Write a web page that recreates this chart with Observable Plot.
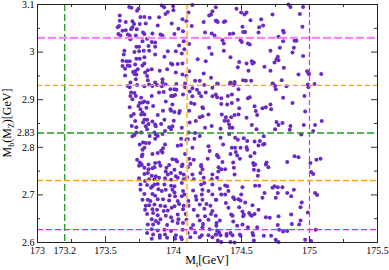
<!DOCTYPE html>
<html><head><meta charset="utf-8">
<script src="https://cdn.jsdelivr.net/npm/d3@7"></script>
<script src="https://cdn.jsdelivr.net/npm/@observablehq/plot@0.6"></script>
<style>body{margin:0;background:#fff}#chart svg{display:block}</style>
</head><body><div id="chart"></div>
<script>
// [M_t (GeV), M_b(M_Z) (GeV)] points, grouped by region of the picture
const regionTopLeft = [[173.674,3.095],[173.691,3.093],[173.732,3.087],[173.742,3.091],[173.914,3.098],[173.931,3.094],[173.997,3.097],[173.999,3.088],[174.139,3.099],[173.958,3.084],[173.941,3.080],[174.110,3.083],[174.286,3.086],[174.276,3.079],[174.262,3.077],[174.311,3.066],[174.325,3.063],[173.605,3.077],[173.757,3.074],[173.786,3.074],[173.825,3.072],[173.894,3.073],[173.605,3.066],[173.649,3.063],[173.698,3.065],[173.710,3.059],[173.752,3.059],[173.796,3.060],[173.987,3.060],[174.066,3.069],[174.095,3.065],[174.222,3.063],[173.600,3.055],[173.590,3.052],[173.698,3.052],[173.884,3.056],[174.134,3.055],[173.688,3.048],[173.730,3.048],[173.625,3.045],[173.649,3.046],[174.036,3.049],[174.070,3.044],[173.776,3.041],[173.786,3.038],[173.595,3.038],[173.610,3.035],[173.664,3.037],[173.678,3.035],[173.723,3.035],[173.845,3.039],[173.904,3.037],[173.919,3.035],[174.007,3.038],[174.232,3.041],[174.281,3.039],[173.683,3.027],[173.806,3.028],[173.772,3.023],[173.840,3.021],[173.865,3.020],[174.075,3.023],[174.041,3.014],[174.115,3.017],[173.727,3.011],[173.747,3.011],[173.816,3.013],[173.865,3.011],[174.262,3.009],[173.639,3.003],[173.713,3.000],[173.747,3.002],[173.781,3.003],[173.821,3.003],[173.958,3.002],[174.017,3.002],[174.080,3.006],[173.634,2.995],[173.865,2.995],[174.061,2.997],[174.281,2.996],[173.786,2.989],[173.933,2.990],[173.727,2.986],[173.752,2.986],[174.178,2.985],[173.625,2.982],[173.654,2.981],[173.678,2.981],[173.786,2.976],[173.982,2.976],[173.992,2.974],[174.031,2.975],[174.066,2.976],[173.625,2.971],[173.664,2.972],[173.678,2.971],[173.718,2.974],[173.772,2.972],[174.237,2.981],[173.644,2.965],[173.737,2.964],[173.811,2.962],[173.840,2.964],[173.899,2.961],[173.953,2.964],[173.703,2.958],[173.718,2.960],[173.791,2.957],[174.017,2.957],[174.066,2.953],[174.115,2.960],[174.222,2.955],[173.644,2.951],[173.713,2.954],[173.727,2.953],[173.806,2.950],[174.095,2.950],[174.276,2.946],[173.723,2.943],[173.811,2.941],[173.919,2.943],[174.193,2.940],[174.159,2.940],[173.683,2.936],[173.865,2.936],[173.919,2.936],[174.021,2.933],[174.085,2.934]];
const regionTopRight = [[174.311,3.094],[174.463,3.091],[174.498,3.083],[174.522,3.079],[174.537,3.083],[174.566,3.067],[174.645,3.069],[174.728,3.079],[174.845,3.100],[174.860,3.095],[174.953,3.095],[174.929,3.080],[174.316,3.066],[174.370,3.063],[174.380,3.065],[174.507,3.053],[174.630,3.052],[174.659,3.056],[174.948,3.053],[174.414,3.038],[174.439,3.039],[174.512,3.042],[174.527,3.042],[174.625,3.041],[174.806,3.045],[174.811,3.041],[174.302,3.035],[174.360,3.025],[174.370,3.018],[174.493,3.025],[174.502,3.021],[174.547,3.018],[174.561,3.016],[174.772,3.032],[174.806,3.023],[174.890,3.024],[174.904,3.024],[174.370,3.003],[174.713,3.003],[174.782,3.009],[174.885,3.009],[174.875,2.999],[174.953,2.992],[174.419,2.989],[174.483,2.979],[174.537,2.976],[174.576,2.981],[174.581,2.976],[174.591,2.978],[174.743,2.978],[174.757,2.985],[174.772,2.983],[174.767,2.990],[174.473,2.968],[174.669,2.969],[174.811,2.967],[174.551,2.961],[174.713,2.961],[174.983,2.960],[174.992,2.955],[174.997,2.954],[175.086,2.954],[174.919,2.953],[174.512,2.941],[174.532,2.940],[174.571,2.940],[174.796,2.941],[174.321,2.934],[174.419,2.936],[174.449,2.937],[174.728,2.934],[174.988,2.932],[175.037,2.933]];
const regionMidLeft = [[173.664,2.929],[173.678,2.926],[173.732,2.931],[173.786,2.928],[173.821,2.932],[173.845,2.929],[173.879,2.931],[173.914,2.928],[173.943,2.932],[173.977,2.922],[174.007,2.922],[174.021,2.921],[174.085,2.926],[174.139,2.924],[174.173,2.921],[174.227,2.931],[174.286,2.925],[173.688,2.915],[173.683,2.908],[173.713,2.914],[173.723,2.908],[173.698,2.901],[173.762,2.904],[173.840,2.908],[173.894,2.915],[173.928,2.916],[173.982,2.908],[173.997,2.908],[174.012,2.910],[174.070,2.911],[174.119,2.917],[174.139,2.907],[174.188,2.914],[174.203,2.907],[174.237,2.915],[174.286,2.907],[173.752,2.893],[173.772,2.894],[173.786,2.896],[173.811,2.894],[173.678,2.884],[173.742,2.887],[173.850,2.887],[173.943,2.896],[173.992,2.890],[174.129,2.893],[174.154,2.891],[174.213,2.884],[174.217,2.882],[173.757,2.880],[173.801,2.883],[173.923,2.877],[173.977,2.880],[173.982,2.877],[174.007,2.874],[174.046,2.876],[174.115,2.877],[173.708,2.870],[173.762,2.869],[173.786,2.869],[173.772,2.873],[173.884,2.868],[174.041,2.872],[174.257,2.869],[174.193,2.863],[174.213,2.865],[173.688,2.866],[173.718,2.855],[173.786,2.858],[173.806,2.858],[173.776,2.852],[173.845,2.854],[173.816,2.849],[173.865,2.848],[173.909,2.849],[173.933,2.858],[174.002,2.856],[174.119,2.852],[174.164,2.855],[174.232,2.841],[174.281,2.845],[173.693,2.845],[173.727,2.842],[173.796,2.844],[173.806,2.838],[173.870,2.844],[173.968,2.842],[173.982,2.838],[173.992,2.844],[174.061,2.841],[173.762,2.831],[173.860,2.831],[173.870,2.827],[173.884,2.824],[173.919,2.828],[173.938,2.834],[173.713,2.826],[173.727,2.831],[173.698,2.823],[173.825,2.824],[173.865,2.818],[174.056,2.818],[174.110,2.831],[174.159,2.830],[174.193,2.824],[174.105,2.817],[173.821,2.809],[173.796,2.809],[173.776,2.810],[173.752,2.806],[173.938,2.806],[174.031,2.803],[174.056,2.805],[174.095,2.816],[174.154,2.818],[173.786,2.799],[173.772,2.795],[173.909,2.793],[173.919,2.789],[173.923,2.798],[173.884,2.788],[173.845,2.786],[174.085,2.786],[174.139,2.799],[174.257,2.802],[174.266,2.792],[173.772,2.785],[173.767,2.781],[174.017,2.774],[173.992,2.775],[174.026,2.770],[174.115,2.776],[174.149,2.774],[173.732,2.774],[173.752,2.768],[173.762,2.765],[173.816,2.764],[173.865,2.767],[173.894,2.768],[173.968,2.763],[174.066,2.764],[174.124,2.765],[174.203,2.763],[174.252,2.776],[174.320,2.784]];
const regionMidRight = [[174.326,2.933],[174.414,2.933],[174.439,2.931],[174.449,2.933],[174.478,2.922],[174.733,2.933],[174.747,2.929],[174.752,2.922],[174.831,2.928],[174.992,2.926],[174.311,2.911],[174.321,2.905],[174.351,2.903],[174.400,2.908],[174.429,2.911],[174.473,2.900],[174.547,2.903],[174.561,2.905],[174.596,2.886],[174.605,2.876],[174.615,2.868],[174.654,2.882],[174.679,2.884],[174.713,2.890],[174.718,2.880],[174.806,2.904],[174.875,2.893],[174.963,2.908],[174.351,2.891],[174.395,2.890],[174.429,2.893],[174.483,2.882],[174.355,2.869],[174.385,2.863],[174.424,2.863],[174.449,2.868],[174.478,2.869],[174.537,2.862],[174.375,2.856],[174.400,2.855],[174.409,2.848],[174.346,2.839],[174.414,2.841],[174.434,2.841],[174.576,2.847],[174.610,2.838],[174.757,2.853],[174.772,2.847],[174.801,2.851],[174.860,2.845],[174.855,2.837],[174.747,2.838],[174.958,2.847],[174.968,2.875],[175.041,2.847],[175.090,2.855],[175.027,2.834],[174.939,2.827],[174.409,2.828],[174.346,2.820],[174.453,2.820],[174.473,2.816],[174.517,2.819],[174.542,2.813],[174.664,2.823],[174.596,2.812],[174.635,2.813],[174.659,2.806],[174.669,2.807],[174.625,2.804],[174.365,2.806],[174.429,2.799],[174.453,2.799],[174.493,2.799],[174.537,2.800],[174.542,2.795],[174.458,2.790],[174.468,2.783],[174.419,2.786],[174.596,2.788],[174.566,2.781],[174.321,2.783],[174.331,2.779],[174.360,2.769],[174.439,2.768],[174.488,2.776],[174.586,2.767],[174.600,2.764],[174.684,2.768],[174.836,2.769],[174.890,2.781],[174.919,2.779],[175.007,2.767],[175.051,2.774],[175.081,2.776],[174.679,2.764]];
const regionLowLeft = [[173.747,2.761],[173.767,2.763],[173.786,2.757],[173.816,2.754],[173.845,2.756],[173.860,2.758],[173.904,2.761],[173.948,2.757],[174.007,2.753],[174.061,2.760],[174.105,2.758],[174.203,2.760],[174.213,2.754],[173.786,2.744],[173.811,2.746],[173.840,2.740],[173.870,2.739],[173.943,2.749],[173.958,2.743],[173.982,2.746],[174.017,2.739],[174.051,2.746],[174.075,2.743],[174.100,2.737],[174.139,2.743],[174.198,2.746],[174.286,2.743],[174.330,2.749],[173.747,2.735],[173.791,2.729],[173.821,2.733],[173.860,2.733],[173.894,2.736],[173.938,2.735],[173.982,2.732],[174.031,2.736],[174.075,2.733],[174.149,2.733],[174.222,2.736],[174.281,2.733],[173.757,2.722],[173.806,2.721],[173.845,2.718],[173.860,2.722],[173.884,2.723],[173.933,2.722],[173.982,2.719],[174.007,2.718],[174.061,2.725],[174.203,2.722],[174.227,2.725],[174.286,2.722],[173.757,2.711],[173.835,2.715],[173.889,2.712],[173.914,2.708],[173.943,2.711],[173.992,2.711],[174.007,2.705],[174.070,2.708],[174.144,2.709],[174.213,2.711],[174.257,2.708],[173.786,2.702],[173.845,2.702],[173.865,2.698],[173.972,2.699],[174.012,2.697],[174.061,2.697],[174.080,2.701],[174.164,2.697],[174.208,2.701],[174.286,2.701],[173.772,2.690],[173.811,2.690],[173.830,2.687],[173.884,2.691],[173.923,2.691],[173.968,2.688],[174.031,2.687],[174.110,2.687],[174.168,2.690],[174.213,2.690],[174.315,2.690],[173.796,2.677],[173.821,2.678],[173.860,2.680],[173.904,2.677],[173.938,2.676],[174.007,2.676],[174.041,2.681],[174.075,2.677],[174.110,2.677],[174.193,2.680],[174.242,2.681],[174.271,2.677],[173.791,2.669],[173.845,2.670],[173.879,2.669],[173.928,2.666],[173.958,2.667],[173.987,2.673],[174.070,2.670],[174.149,2.669],[174.227,2.671],[174.286,2.666],[173.806,2.660],[173.850,2.662],[173.884,2.657],[173.943,2.656],[173.982,2.653],[174.031,2.659],[174.090,2.660],[174.178,2.656],[174.232,2.655],[174.276,2.660],[173.840,2.649],[173.870,2.645],[173.904,2.649],[173.992,2.645],[174.036,2.649],[174.095,2.648],[174.193,2.646],[174.257,2.648],[173.811,2.638],[173.850,2.638],[173.889,2.641],[173.953,2.637],[174.031,2.641],[174.070,2.641],[174.144,2.637],[174.217,2.639],[174.315,2.635],[173.840,2.628],[173.884,2.625],[173.933,2.627],[173.982,2.624],[174.066,2.627],[174.129,2.630],[174.213,2.632],[174.266,2.628],[173.806,2.620],[173.850,2.617],[173.899,2.615],[173.938,2.617],[174.017,2.615],[174.056,2.611],[174.105,2.620],[174.159,2.621],[174.208,2.615],[174.257,2.615],[174.315,2.617],[173.840,2.608],[173.899,2.610],[173.953,2.610],[174.012,2.608],[174.061,2.607],[174.124,2.611],[174.193,2.611],[174.286,2.611]];
const regionLowRight = [[174.331,2.758],[174.351,2.754],[174.380,2.754],[174.444,2.757],[174.591,2.763],[174.591,2.753],[174.625,2.751],[174.698,2.758],[175.012,2.748],[175.027,2.744],[174.449,2.743],[174.620,2.740],[174.321,2.736],[174.380,2.720],[174.395,2.718],[174.341,2.713],[174.404,2.708],[174.507,2.716],[174.600,2.719],[174.630,2.719],[174.728,2.715],[174.743,2.718],[174.767,2.716],[174.801,2.716],[174.885,2.711],[175.041,2.704],[175.056,2.700],[174.351,2.701],[174.380,2.701],[174.669,2.704],[174.767,2.704],[174.836,2.704],[174.865,2.697],[174.311,2.690],[174.439,2.695],[174.449,2.691],[174.478,2.691],[174.498,2.701],[174.493,2.688],[174.654,2.694],[174.752,2.694],[174.385,2.683],[174.527,2.684],[174.404,2.673],[174.483,2.674],[174.581,2.678],[174.625,2.669],[174.943,2.684],[174.934,2.674],[174.988,2.663],[174.424,2.659],[174.434,2.656],[174.507,2.665],[174.512,2.655],[174.517,2.659],[174.556,2.662],[174.566,2.658],[174.576,2.656],[174.596,2.660],[174.679,2.653],[174.708,2.652],[174.772,2.655],[174.865,2.659],[174.311,2.656],[174.341,2.646],[174.439,2.644],[174.468,2.635],[174.507,2.638],[174.547,2.632],[174.615,2.632],[174.767,2.637],[174.870,2.639],[174.924,2.638],[174.934,2.646],[174.316,2.641],[174.321,2.625],[174.336,2.621],[174.346,2.615],[174.311,2.617],[174.390,2.618],[174.390,2.614],[174.419,2.620],[174.434,2.615],[174.488,2.617],[174.493,2.614],[174.581,2.620],[174.586,2.615],[174.664,2.614],[174.718,2.614],[174.777,2.627],[174.806,2.623],[174.836,2.624],[175.046,2.627],[174.326,2.604],[174.351,2.601],[174.419,2.601],[174.449,2.600],[174.591,2.604],[174.752,2.606],[174.772,2.601],[174.968,2.606],[175.012,2.603]];

const refX = [173.2, 174.1, 175.0];          // vertical dashed lines: green, orange, magenta
const refY = [3.03, 2.93, 2.83, 2.73, 2.627]; // horizontal dashed lines
const xMajor = [173, 173.5, 174, 174.5, 175, 175.5];
const xMinor = [173.25, 173.75, 174.25, 174.75, 175.25];
const xLabels = [173, 173.2, 173.5, 174, 174.5, 175, 175.5];
const yMajor = [2.6, 2.7, 2.8, 2.9, 3.0, 3.1];
const yMinor = [2.65, 2.75, 2.85, 2.95, 3.05];
const yLabels = [2.6, 2.7, 2.8, 2.83, 2.9, 3.0, 3.1];

const points = [regionTopLeft, regionTopRight, regionMidLeft, regionMidRight, regionLowLeft, regionLowRight]
  .flat().map(([mt, mb]) => ({mt, mb}));

const green = "#1f9a1f", orange = "#f5a20f", magenta = "#f21cf2", pink = "#ff80ff";
const W = 389, H = 270, mL = 37, mR = 12, mT = 4, mB = 28;
const iw = W - mL - mR, ih = H - mT - mB;
const tickStyle = {stroke: "#333", strokeWidth: 1};

const chart = Plot.plot({
  width: W, height: H,
  marginLeft: mL, marginRight: mR, marginTop: mT, marginBottom: mB,
  style: {fontFamily: "'Liberation Serif', serif", fontSize: "10px", color: "#000", background: "#fff"},
  x: {domain: [173, 175.5]},
  y: {domain: [2.6, 3.1]},
  marks: [
    Plot.dot(points, {x: "mt", y: "mb", r: 2, fill: "#6a2bc4"}),
    Plot.ruleX([refX[0]], {stroke: green, strokeWidth: 1.3, strokeDasharray: "7,3"}),
    Plot.ruleX([refX[1]], {stroke: "#ffbf60", strokeWidth: 2, strokeDasharray: "6,3"}),
    Plot.ruleX([refX[2]], {stroke: magenta, strokeWidth: 1.2, strokeDasharray: "5,3"}),
    Plot.ruleY([refY[0]], {stroke: pink, strokeWidth: 2.2, strokeDasharray: "8,3"}),
    Plot.ruleY([refY[1]], {stroke: orange, strokeWidth: 1.1, strokeDasharray: "5,3"}),
    Plot.ruleY([refY[2]], {stroke: green, strokeWidth: 1.4, strokeDasharray: "7,3"}),
    Plot.ruleY([refY[3]], {stroke: orange, strokeWidth: 1.5, strokeDasharray: "6,3"}),
    Plot.ruleY([refY[4]], {stroke: magenta, strokeWidth: 1.3, strokeDasharray: "6,3"}),
    // inward tick marks on all four sides
    Plot.tickX(xMajor, {x: d => d, insetTop: ih - 6, ...tickStyle}),
    Plot.tickX(xMinor, {x: d => d, insetTop: ih - 3, ...tickStyle}),
    Plot.tickX(xMajor, {x: d => d, insetBottom: ih - 6, ...tickStyle}),
    Plot.tickX(xMinor, {x: d => d, insetBottom: ih - 3, ...tickStyle}),
    Plot.tickY(yMajor, {y: d => d, insetRight: iw - 6, ...tickStyle}),
    Plot.tickY(yMinor, {y: d => d, insetRight: iw - 3, ...tickStyle}),
    Plot.tickY(yMajor, {y: d => d, insetLeft: iw - 6, ...tickStyle}),
    Plot.tickY(yMinor, {y: d => d, insetLeft: iw - 3, ...tickStyle}),
    Plot.frame({stroke: "#222", strokeWidth: 1}),
    Plot.axisX({ticks: xLabels, tickSize: 0, tickPadding: 4, tickFormat: d => String(d), label: null}),
    Plot.axisY({ticks: yLabels, tickSize: 0, tickPadding: 3, tickFormat: d => String(d), label: null})
  ]
});

const svg = d3.select(chart);
const xl = svg.append("text")
  .attr("x", 207).attr("y", 264).attr("text-anchor", "middle")
  .attr("font-family", "'Liberation Serif', serif").attr("font-size", 12).attr("fill", "#000");
xl.append("tspan").text("M");
xl.append("tspan").attr("font-size", 8).attr("dy", 3).text("t");
xl.append("tspan").attr("dy", -3).text("[GeV]");

const yl = svg.append("text")
  .attr("transform", "translate(11,123) rotate(-90)").attr("text-anchor", "middle")
  .attr("font-family", "'Liberation Serif', serif").attr("font-size", 12).attr("fill", "#000");
yl.append("tspan").text("M");
yl.append("tspan").attr("font-size", 8).attr("dy", 3).text("b");
yl.append("tspan").attr("dy", -3).text("(M");
yl.append("tspan").attr("font-size", 8).attr("dy", 3).text("Z");
yl.append("tspan").attr("dy", -3).text(")[GeV]");

document.getElementById("chart").append(chart);
</script>
</body></html>
